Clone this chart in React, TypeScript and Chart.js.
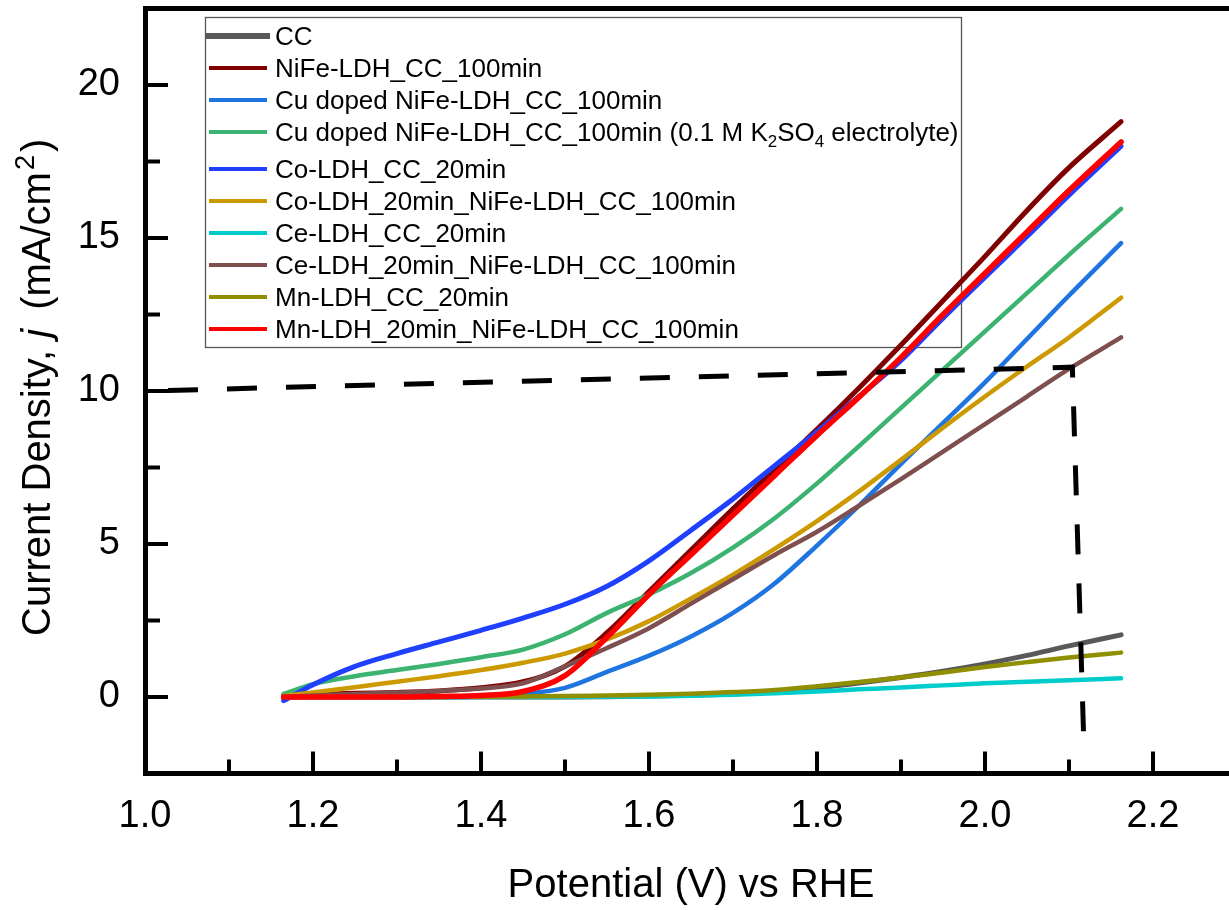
import { useEffect, useRef } from "react";
import { Chart, registerables } from "chart.js";

Chart.register(...registerables);

// ---------- data ----------
const POTENTIAL = [1.165, 1.2, 1.25, 1.3, 1.35, 1.4, 1.45, 1.5, 1.55, 1.6, 1.65, 1.7, 1.75, 1.8, 1.85, 1.9, 1.95, 2.0, 2.05, 2.1, 2.162];

const CC = [0, 0, 0, 0, 0, 0, 0, 0, 0.01, 0.03, 0.06, 0.1, 0.17, 0.3, 0.46, 0.64, 0.84, 1.08, 1.36, 1.67, 2.03];
const NIFE = [0.05, 0.08, 0.12, 0.15, 0.2, 0.3, 0.5, 1.0, 2.1, 3.45, 4.8, 6.15, 7.45, 8.75, 10.1, 11.5, 12.95, 14.4, 15.9, 17.3, 18.8];
const CU_NIFE = [0, 0, 0, 0, 0, 0.02, 0.1, 0.3, 0.82, 1.35, 1.98, 2.75, 3.72, 4.95, 6.25, 7.62, 8.95, 10.28, 11.7, 13.12, 14.83];
const CU_NIFE_K2SO4 = [0.1, 0.42, 0.68, 0.88, 1.08, 1.3, 1.55, 2.05, 2.75, 3.35, 4.05, 4.88, 5.85, 6.98, 8.2, 9.45, 10.7, 11.95, 13.2, 14.45, 15.95];
const CO_LDH = [-0.12, 0.4, 1.0, 1.42, 1.8, 2.18, 2.58, 3.03, 3.62, 4.45, 5.45, 6.47, 7.57, 8.67, 9.82, 11.0, 12.38, 13.72, 15.05, 16.4, 18.0];
const CO_NIFE = [0.03, 0.15, 0.32, 0.5, 0.68, 0.88, 1.12, 1.42, 1.88, 2.48, 3.22, 4.0, 4.85, 5.75, 6.72, 7.75, 8.8, 9.82, 10.8, 11.75, 13.05];
const CE_LDH = [0, 0, 0, 0, 0, 0, 0, 0, 0.01, 0.02, 0.04, 0.07, 0.12, 0.18, 0.25, 0.31, 0.38, 0.45, 0.5, 0.55, 0.61];
const CE_NIFE = [0, 0.05, 0.1, 0.15, 0.2, 0.28, 0.45, 1.0, 1.6, 2.25, 3.05, 3.85, 4.65, 5.4, 6.25, 7.12, 8.02, 8.92, 9.82, 10.72, 11.75];
const MN_LDH = [0, 0, 0, 0, 0, 0.01, 0.02, 0.03, 0.05, 0.07, 0.11, 0.16, 0.23, 0.35, 0.49, 0.64, 0.8, 0.98, 1.14, 1.29, 1.45];
const MN_NIFE = [0, 0, 0, 0, 0.02, 0.05, 0.18, 0.7, 1.95, 3.35, 4.65, 5.95, 7.25, 8.55, 9.8, 11.1, 12.5, 13.85, 15.2, 16.55, 18.14];

const LABELS = [
  "CC",
  "NiFe-LDH_CC_100min",
  "Cu doped NiFe-LDH_CC_100min",
  "Cu doped NiFe-LDH_CC_100min (0.1 M K\u2082SO\u2084 electrolyte)",
  "Co-LDH_CC_20min",
  "Co-LDH_20min_NiFe-LDH_CC_100min",
  "Ce-LDH_CC_20min",
  "Ce-LDH_20min_NiFe-LDH_CC_100min",
  "Mn-LDH_CC_20min",
  "Mn-LDH_20min_NiFe-LDH_CC_100min",
];

// guide (dashed) line: 10 mA/cm2 marker
const GUIDE_X = [1.0, 2.104, 2.118];
const GUIDE_Y = [10.0, 10.78, -1.8];

const X_MAJOR_TICKS = [1.0, 1.2, 1.4, 1.6, 1.8, 2.0, 2.2];
const X_MINOR_TICKS = [1.1, 1.3, 1.5, 1.7, 1.9, 2.1];
const Y_MAJOR_TICKS = [0, 5, 10, 15, 20];
const Y_MINOR_TICKS = [2.5, 7.5, 12.5, 17.5];

const X_TITLE = "Potential (V) vs RHE";

// ---------- styles ----------
const FONT = 'Arial, "Liberation Sans", Helvetica, sans-serif';
const SERIES = [
  { values: CC, color: "#595959", width: 5 },
  { values: NIFE, color: "#800000", width: 5 },
  { values: CU_NIFE, color: "#1E74E0", width: 4.5 },
  { values: CU_NIFE_K2SO4, color: "#3CB371", width: 4.5 },
  { values: CO_LDH, color: "#2040FF", width: 5 },
  { values: CO_NIFE, color: "#CC9900", width: 4.5 },
  { values: CE_LDH, color: "#00CCCC", width: 4.5 },
  { values: CE_NIFE, color: "#7F4F4F", width: 4.5 },
  { values: MN_LDH, color: "#8F8F00", width: 4.5 },
  { values: MN_NIFE, color: "#FF0000", width: 5.5 },
];

const SUB_MAP: Record<string, string> = {
  "\u2080": "0", "\u2081": "1", "\u2082": "2", "\u2083": "3", "\u2084": "4",
  "\u2085": "5", "\u2086": "6", "\u2087": "7", "\u2088": "8", "\u2089": "9",
};

const legendPlugin = {
  id: "customLegend",
  beforeDatasetsDraw(chart: any) {
    const ctx = chart.ctx as CanvasRenderingContext2D;
    ctx.save();
    ctx.strokeStyle = "#555";
    ctx.lineWidth = 1.3;
    ctx.strokeRect(205.5, 17.5, 756, 330);
    const fs = 26;
    chart.data.datasets.forEach((ds: any, i: number) => {
      if (i >= LABELS.length) return;
      const y = 36 + i * 32 + (i >= 4 ? 5 : 0);
      ctx.strokeStyle = ds.borderColor;
      ctx.lineCap = "butt";
      ctx.lineWidth = i === 0 ? 6 : 4;
      ctx.beginPath();
      ctx.moveTo(i === 0 ? 206 : 209, y);
      ctx.lineTo(i === 0 ? 270 : 267, y);
      ctx.stroke();
      let x = 275;
      const base = y + fs * 0.358;
      ctx.fillStyle = "#000";
      ctx.textBaseline = "alphabetic";
      ctx.textAlign = "left";
      const label: string = ds.label;
      let run = "";
      let runSub = false;
      const flush = () => {
        if (!run) return;
        if (runSub) {
          ctx.font = `${fs * 0.65}px ${FONT}`;
          ctx.fillText(run, x, base + fs * 0.22);
        } else {
          ctx.font = `${fs}px ${FONT}`;
          ctx.fillText(run, x, base);
        }
        x += ctx.measureText(run).width;
        run = "";
      };
      for (const ch of label) {
        const isSub = ch in SUB_MAP;
        if (isSub !== runSub) {
          flush();
          runSub = isSub;
        }
        run += isSub ? SUB_MAP[ch] : ch;
      }
      flush();
    });
    ctx.restore();
  },
};

const decorPlugin = {
  id: "decor",
  afterDraw(chart: any) {
    const ctx = chart.ctx as CanvasRenderingContext2D;
    const xs = chart.scales.x;
    const ys = chart.scales.y;
    const area = chart.chartArea;
    ctx.save();
    ctx.strokeStyle = "#000";
    ctx.lineWidth = 4;
    ctx.lineCap = "butt";
    const bottom = area.bottom;
    const left = area.left;
    X_MAJOR_TICKS.forEach((v) => {
      const px = xs.getPixelForValue(v);
      ctx.beginPath(); ctx.moveTo(px, bottom); ctx.lineTo(px, bottom - 22); ctx.stroke();
    });
    X_MINOR_TICKS.forEach((v) => {
      const px = xs.getPixelForValue(v);
      ctx.beginPath(); ctx.moveTo(px, bottom); ctx.lineTo(px, bottom - 14); ctx.stroke();
    });
    Y_MAJOR_TICKS.forEach((v) => {
      const py = ys.getPixelForValue(v);
      ctx.beginPath(); ctx.moveTo(left, py); ctx.lineTo(left + 23, py); ctx.stroke();
    });
    Y_MINOR_TICKS.forEach((v) => {
      const py = ys.getPixelForValue(v);
      ctx.beginPath(); ctx.moveTo(left, py); ctx.lineTo(left + 15, py); ctx.stroke();
    });

    // y-axis title with italic j and superscript 2
    const fs = 40;
    const segs = [
      { t: "Current Density, ", f: `${fs}px ${FONT}`, dy: 0, gap: 0 },
      { t: "j", f: `italic ${fs}px ${FONT}`, dy: 0, gap: 1 },
      { t: " (mA/cm", f: `${fs}px ${FONT}`, dy: 0, gap: 8 },
      { t: "2", f: `${fs * 0.68}px ${FONT}`, dy: -fs * 0.4, gap: 2 },
      { t: ")", f: `${fs}px ${FONT}`, dy: 0, gap: 3 },
    ];
    ctx.translate(50, 636);
    ctx.rotate(-Math.PI / 2);
    ctx.fillStyle = "#000";
    ctx.textBaseline = "alphabetic";
    ctx.textAlign = "left";
    let x = 0;
    segs.forEach((s) => {
      ctx.font = s.f;
      x += s.gap;
      ctx.fillText(s.t, x, s.dy);
      x += ctx.measureText(s.t).width;
    });
    ctx.restore();
  },
};

const zeroPad = (s: any) => {
  s.paddingTop = 0;
  s.paddingBottom = 0;
  s.paddingLeft = 0;
  s.paddingRight = 0;
};

export default function App() {
  const ref = useRef<HTMLCanvasElement>(null);
  useEffect(() => {
    const canvas = ref.current;
    if (!canvas) return;
    const datasets: any[] = SERIES.map((s, i) => ({
      label: LABELS[i],
      data: POTENTIAL.map((x, k) => ({ x, y: s.values[k] })),
      borderColor: s.color,
      backgroundColor: s.color,
      borderWidth: s.width,
      pointRadius: 0,
      pointHoverRadius: 0,
      tension: 0.4,
      cubicInterpolationMode: "monotone",
      fill: false,
      order: SERIES.length - i + 1,
      borderCapStyle: "round",
      borderJoinStyle: "round",
    }));
    datasets.push({
      label: "guide",
      data: GUIDE_X.map((x, k) => ({ x, y: GUIDE_Y[k] })),
      borderColor: "#000",
      backgroundColor: "#000",
      borderWidth: 5,
      borderDash: [30, 29],
      borderDashOffset: 36,
      pointRadius: 0,
      tension: 0,
      order: 0,
      borderCapStyle: "butt",
      fill: false,
    });

    const tickFont = { family: FONT, size: 38 };
    const chart = new Chart(canvas, {
      type: "line",
      data: { datasets },
      options: {
        responsive: false,
        animation: false,
        devicePixelRatio: 1,
        layout: { padding: { left: 0, top: 0, bottom: 0, right: 23 } },
        plugins: { legend: { display: false }, tooltip: { enabled: false } },
        events: [],
        scales: {
          x: {
            type: "linear",
            position: "bottom",
            min: 1.0,
            max: 2.3,
            afterBuildTicks: (s: any) => { s.ticks = X_MAJOR_TICKS.map((v) => ({ value: v })); },
            afterFit: (s: any) => { s.height = 136.5; zeroPad(s); },
            ticks: {
              autoSkip: false,
              maxRotation: 0,
              padding: 20,
              color: "#000",
              font: tickFont,
              callback: (v: any) => Number(v).toFixed(1),
            },
            grid: { display: false, drawTicks: false },
            border: { display: true, width: 5, color: "#000" },
            title: {
              display: true,
              text: X_TITLE,
              color: "#000",
              font: { family: FONT, size: 40 },
              padding: { top: 0, bottom: 0 },
            },
          },
          xTop: {
            type: "linear",
            position: "top",
            min: 1.0,
            max: 2.3,
            afterFit: (s: any) => { s.height = 8.5; zeroPad(s); },
            ticks: { display: false },
            grid: { display: false, drawTicks: false },
            border: { display: true, width: 5, color: "#000" },
          },
          y: {
            type: "linear",
            position: "left",
            min: -2.5,
            max: 22.5,
            afterBuildTicks: (s: any) => { s.ticks = Y_MAJOR_TICKS.map((v) => ({ value: v })); },
            afterFit: (s: any) => { s.width = 145; zeroPad(s); },
            ticks: {
              autoSkip: false,
              padding: 25,
              color: "#000",
              font: tickFont,
              callback: (v: any) => String(v),
            },
            grid: { display: false, drawTicks: false },
            border: { display: true, width: 5, color: "#000" },
          },
        },
      } as any,
      plugins: [legendPlugin, decorPlugin],
    });
    return () => chart.destroy();
  }, []);

  return (
    <div style={{ position: "fixed", left: 0, top: 0, width: 1229, height: 910, overflow: "hidden", background: "#fff" }}>
      <canvas ref={ref} width={1260} height={910} style={{ display: "block", width: 1260, height: 910 }} />
    </div>
  );
}
